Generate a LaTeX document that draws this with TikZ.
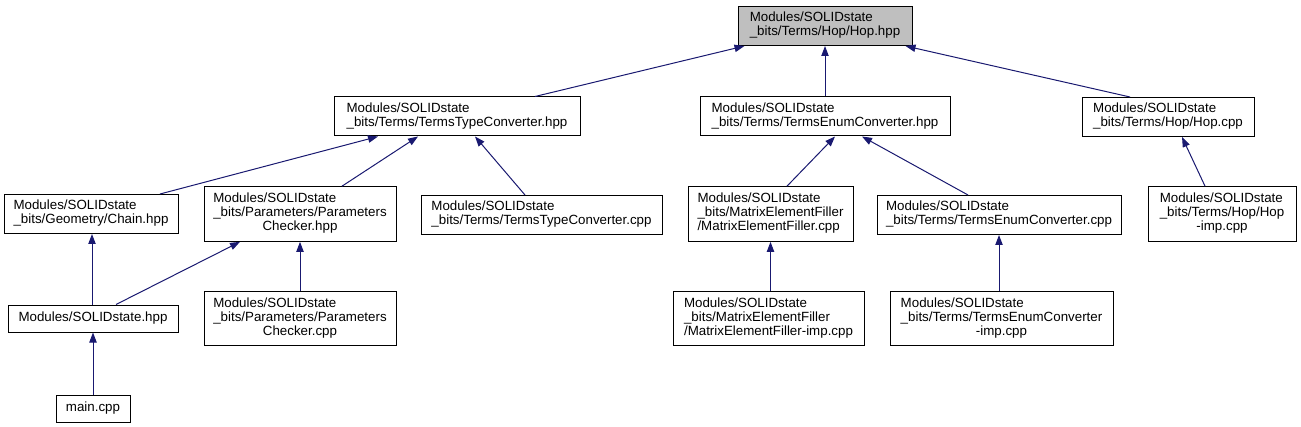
\documentclass[tikz,border=0pt]{standalone}
\usepackage{fontspec}
\setmainfont{Liberation Sans}
\usetikzlibrary{arrows.meta,calc}

\definecolor{edgeblue}{HTML}{191970}
\definecolor{rootgray}{HTML}{BFBFBF}

\newcommand{\filelines}[1]{\begin{tabular}{@{}l@{}}#1\end{tabular}}
\newcommand{\midline}[1]{\multicolumn{1}{@{}c@{}}{#1}}

\begin{document}
\begin{tikzpicture}[
  x=0.75pt,
  y=-0.75pt,
  file/.style={
      rectangle,
      draw=black,
      line width=0.75pt,
      inner sep=0pt,
      font=\fontsize{10}{10.5}\selectfont,
      fill=white
  },
  root/.style={
      file,
      fill=rootgray
  },
  oneline/.style={minimum height=20.25pt},
  twoline/.style={minimum height=29.25pt},
  threeline/.style={minimum height=41pt},
  edge/.style={
      <-,
      draw=edgeblue,
      line width=0.75pt,
      >={Triangle[length=7.5pt,width=5.5pt]}
  }
]

\useasboundingbox (0,0) rectangle (1301,427);

% ==================================================
% Root Header
% ==================================================

\node[root, twoline,
      minimum width=130.5pt]
      (hop_hpp) at (825,26)
      {\filelines{Modules/SOLIDstate\\ \_bits/Terms/Hop/Hop.hpp}};

% ==================================================
% Direct Includers
% ==================================================

\node[file, twoline,
      minimum width=184.5pt]
      (ttc_hpp) at (457,116.5)
      {\filelines{Modules/SOLIDstate\\ \_bits/Terms/TermsTypeConverter.hpp}};

\node[file, twoline,
      minimum width=187.5pt]
      (tec_hpp) at (825,116.5)
      {\filelines{Modules/SOLIDstate\\ \_bits/Terms/TermsEnumConverter.hpp}};

\node[file, twoline,
      minimum width=129pt]
      (hop_cpp) at (1168,117)
      {\filelines{Modules/SOLIDstate\\ \_bits/Terms/Hop/Hop.cpp}};

% ==================================================
% Third Row
% ==================================================

\node[file, twoline,
      minimum width=130.5pt]
      (chain) at (91,214)
      {\filelines{Modules/SOLIDstate\\ \_bits/Geometry/Chain.hpp}};

\node[file, threeline,
      minimum width=144pt]
      (pc_hpp) at (300,214)
      {\filelines{Modules/SOLIDstate\\ \_bits/Parameters/Parameters\\ \midline{Checker.hpp}}};

\node[file, twoline,
      minimum width=180.75pt]
      (ttc_cpp) at (541.5,215)
      {\filelines{Modules/SOLIDstate\\ \_bits/Terms/TermsTypeConverter.cpp}};

\node[file, threeline,
      minimum width=123.75pt]
      (mef_cpp) at (770.5,214)
      {\filelines{Modules/SOLIDstate\\ \_bits/MatrixElementFiller\\ /MatrixElementFiller.cpp}};

\node[file, twoline,
      minimum width=183pt]
      (tec_cpp) at (999,215)
      {\filelines{Modules/SOLIDstate\\ \_bits/Terms/TermsEnumConverter.cpp}};

\node[file, threeline,
      minimum width=111pt]
      (hop_imp) at (1222,214)
      {\filelines{Modules/SOLIDstate\\ \_bits/Terms/Hop/Hop\\ \midline{-imp.cpp}}};

% ==================================================
% Fourth Row
% ==================================================

\node[file, oneline,
      minimum width=127.5pt]
      (solid) at (93,318.5)
      {\filelines{Modules/SOLIDstate.hpp}};

\node[file, threeline,
      minimum width=144pt]
      (pc_cpp) at (300,318.5)
      {\filelines{Modules/SOLIDstate\\ \_bits/Parameters/Parameters\\ \midline{Checker.cpp}}};

\node[file, threeline,
      minimum width=143.25pt]
      (mef_imp) at (768.5,318.5)
      {\filelines{Modules/SOLIDstate\\ \_bits/MatrixElementFiller\\ /MatrixElementFiller-imp.cpp}};

\node[file, threeline,
      minimum width=167.25pt]
      (tec_imp) at (1001.5,318.5)
      {\filelines{Modules/SOLIDstate\\ \_bits/Terms/TermsEnumConverter\\ \midline{-imp.cpp}}};

% ==================================================
% Main
% ==================================================

\node[file, oneline,
      minimum width=55.5pt]
      (main) at (93,408.5)
      {\filelines{main.cpp}};

% ==================================================
% Include Edges
% ==================================================

\draw[edge]
      ($(hop_hpp.south west)+(7,0)$)
      -- ($(ttc_hpp.north)+(78,0)$);

\draw[edge]
      (hop_hpp.south)
      -- (tec_hpp.north);

\draw[edge]
      ($(hop_hpp.south east)+(-7,0)$)
      -- ($(hop_cpp.north)+(-38,0)$);

\draw[edge]
      ($(ttc_hpp.south)+(-79,0)$)
      -- ($(chain.north)+(69,0)$);

\draw[edge]
      ($(ttc_hpp.south)+(-39,0)$)
      -- ($(pc_hpp.north)+(42,0)$);

\draw[edge]
      ($(ttc_hpp.south)+(18,0)$)
      -- ($(ttc_cpp.north)+(-16.5,0)$);

\draw[edge]
      ($(tec_hpp.south)+(10,0)$)
      -- ($(mef_cpp.north)+(16.5,0)$);

\draw[edge]
      ($(tec_hpp.south)+(37,0)$)
      -- ($(tec_cpp.north)+(-31,0)$);

\draw[edge]
      ($(hop_cpp.south)+(14,0)$)
      -- ($(hop_imp.north)+(-17,0)$);

\draw[edge]
      ($(chain.south)+(1,0)$)
      -- ($(solid.north)+(-1,0)$);

\draw[edge]
      ($(pc_hpp.south)+(-60,0)$)
      -- ($(solid.north)+(23,0)$);

\draw[edge]
      (pc_hpp.south)
      -- (pc_cpp.north);

\draw[edge]
      (solid.south)
      -- (main.north);

\draw[edge]
      (mef_cpp.south)
      -- (mef_cpp.south |- mef_imp.north);

\draw[edge]
      (tec_cpp.south)
      -- (tec_cpp.south |- tec_imp.north);

\end{tikzpicture}
\end{document}
